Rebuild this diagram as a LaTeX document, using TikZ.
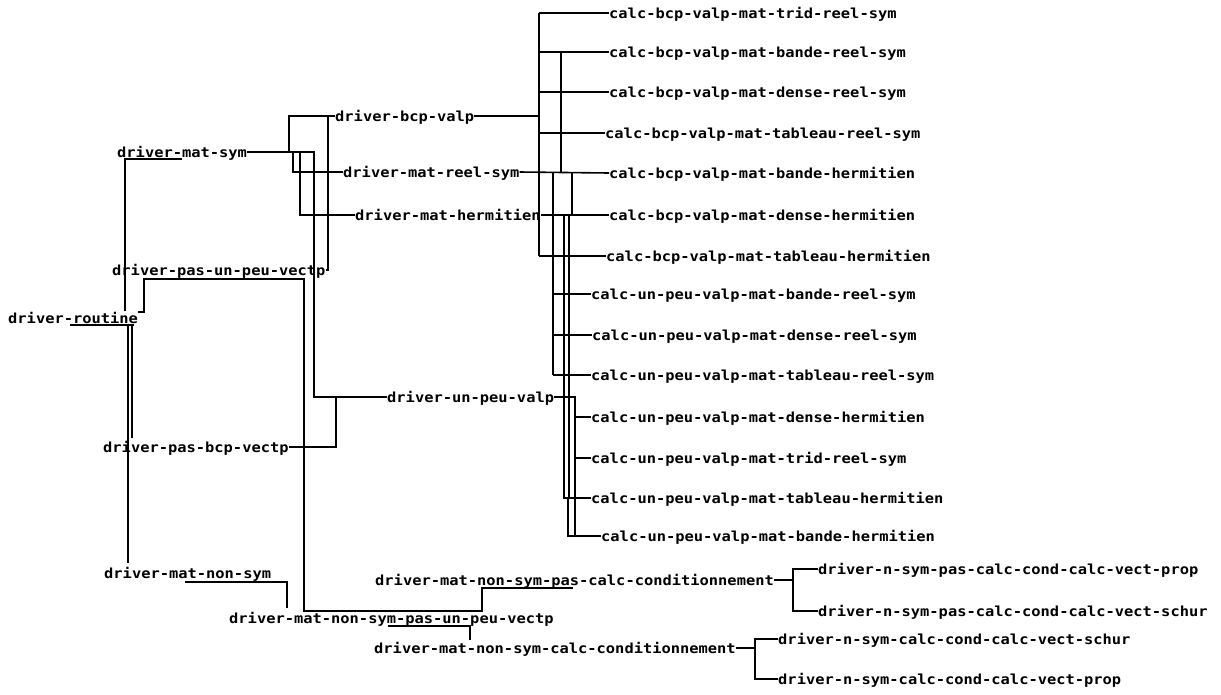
\documentclass[tikz,border=0pt]{standalone}
\usepackage{fontspec}
\newfontfamily\lblfont{DejaVu Sans Mono}
\newcommand\sq[1]{\scalebox{1}[0.9]{#1}}
\tikzset{
  lbl/.style={anchor=west, inner sep=0pt, text height=10pt, text depth=0pt,
    font={\lblfont\bfseries\fontsize{15.4pt}{16pt}\selectfont}},
  con/.style={line width=1.6pt, line join=miter},
  heavy/.style={line width=2.8pt}
}
\begin{document}
\begin{tikzpicture}[x=1pt,y=-1pt]
\useasboundingbox[fill=white] (0,0) rectangle (1221,694);
% left nodes
\node[lbl] (routine) at (8,318) {\sq{driver-routine}};
\node[lbl] (matsym) at (117,152) {\sq{driver-mat-sym}};
\node[lbl] (pasunpeu) at (112,270) {\sq{driver-pas-un-peu-vectp}};
\node[lbl] (pasbcp) at (103,447) {\sq{driver-pas-bcp-vectp}};
\node[lbl] (matnonsym) at (104,573) {\sq{driver-mat-non-sym}};
\node[lbl] (bcpvalp) at (335,116) {\sq{driver-bcp-valp}};
\node[lbl] (matreel) at (343,172) {\sq{driver-mat-reel-sym}};
\node[lbl] (matherm) at (355,215) {\sq{driver-mat-hermitien}};
\node[lbl] (unpeuvalp) at (387,397) {\sq{driver-un-peu-valp}};
\node[lbl] (nspasunpeu) at (229,618) {\sq{driver-mat-non-sym-pas-un-peu-vectp}};
\node[lbl] (nspascalc) at (375,580) {\sq{driver-mat-non-sym-pas-calc-conditionnement}};
\node[lbl] (nscalc) at (374,648) {\sq{driver-mat-non-sym-calc-conditionnement}};
% right nodes
\node[lbl] (c1) at (609,13) {\sq{calc-bcp-valp-mat-trid-reel-sym}};
\node[lbl] (c2) at (609,52) {\sq{calc-bcp-valp-mat-bande-reel-sym}};
\node[lbl] (c3) at (609,92) {\sq{calc-bcp-valp-mat-dense-reel-sym}};
\node[lbl] (c4) at (605,133) {\sq{calc-bcp-valp-mat-tableau-reel-sym}};
\node[lbl] (c5) at (609,173) {\sq{calc-bcp-valp-mat-bande-hermitien}};
\node[lbl] (c6) at (609,215) {\sq{calc-bcp-valp-mat-dense-hermitien}};
\node[lbl] (c7) at (606,256) {\sq{calc-bcp-valp-mat-tableau-hermitien}};
\node[lbl] (u1) at (591,294) {\sq{calc-un-peu-valp-mat-bande-reel-sym}};
\node[lbl] (u2) at (592,335) {\sq{calc-un-peu-valp-mat-dense-reel-sym}};
\node[lbl] (u3) at (591,375) {\sq{calc-un-peu-valp-mat-tableau-reel-sym}};
\node[lbl] (u4) at (591,417) {\sq{calc-un-peu-valp-mat-dense-hermitien}};
\node[lbl] (u5) at (591,458) {\sq{calc-un-peu-valp-mat-trid-reel-sym}};
\node[lbl] (u6) at (591,498) {\sq{calc-un-peu-valp-mat-tableau-hermitien}};
\node[lbl] (u7) at (601,536) {\sq{calc-un-peu-valp-mat-bande-hermitien}};
\node[lbl] (p1) at (818,569) {\sq{driver-n-sym-pas-calc-cond-calc-vect-prop}};
\node[lbl] (p2) at (818,611) {\sq{driver-n-sym-pas-calc-cond-calc-vect-schur}};
\node[lbl] (s1) at (778,639) {\sq{driver-n-sym-calc-cond-calc-vect-schur}};
\node[lbl] (s2) at (778,679) {\sq{driver-n-sym-calc-cond-calc-vect-prop}};
% left connectors
\draw[con] (182,159) -- (125,159) -- (125,311);
\draw[con] (70,325) -- (134,325);
\draw[con] (132,325) -- (132,438);
\draw[con] (128,325) -- (128,563);
\draw[con] ([yshift=6pt]routine.east) -- (144,312) -- (144,279) -- (304,279) -- (304,611) -- (482,611) -- (482,588) -- (573,588);
\draw[con] (matsym.east) -- (314,152) -- (314,397) -- (unpeuvalp.west);
\draw[con] (289,152) -- (289,116) -- (bcpvalp.west);
\draw[con] (293,152) -- (293,172) -- (matreel.west);
\draw[con] (300,152) -- (300,215) -- (matherm.west);
\draw[con] (pasunpeu.east) -- (328,270) -- (328,116);
\draw[con] (pasbcp.east) -- (336,447) -- (336,397);
\draw[con] (185,582) -- (287,582) -- (287,608);
\draw[con] (388,626) -- (470,626) -- (470,640);
\draw[con] (nspascalc.east) -- (793,580);
\draw[con] (p1.west) -- (793,569) -- (793,611) -- (p2.west);
\draw[con] (nscalc.east) -- (755,648);
\draw[con] (s1.west) -- (755,639) -- (755,679) -- (s2.west);
% right cluster
\draw[con] (bcpvalp.east) -- (539,116);
\draw[con] (539,13) -- (539,256);
\draw[con] (539,13) -- (c1.west);
\draw[con] (539,52) -- (c2.west);
\draw[con] (539,92) -- (c3.west);
\draw[con] (539,133) -- (c4.west);
\draw[con] (539,256) -- (c7.west);
\draw[con] (matreel.east) -- (c5.west);
\draw[con] (561,52) -- (561,173);
\draw[con] (553,173) -- (553,375);
\draw[con] (553,294) -- (u1.west);
\draw[con] (553,335) -- (u2.west);
\draw[con] (553,375) -- (u3.west);
\draw[heavy] (matherm.east) -- (c6.west);
\draw[con] (572,173) -- (572,215);
\draw[con] (564,215) -- (564,498) -- (u6.west);
\draw[heavy] (569,215) -- (569,498);
\draw[con] (unpeuvalp.east) -- (575,397) -- (575,536);
\draw[con] (575,417) -- (u4.west);
\draw[con] (575,458) -- (u5.west);
\draw[con] (568,498) -- (568,536) -- (u7.west);
\end{tikzpicture}
\end{document}
